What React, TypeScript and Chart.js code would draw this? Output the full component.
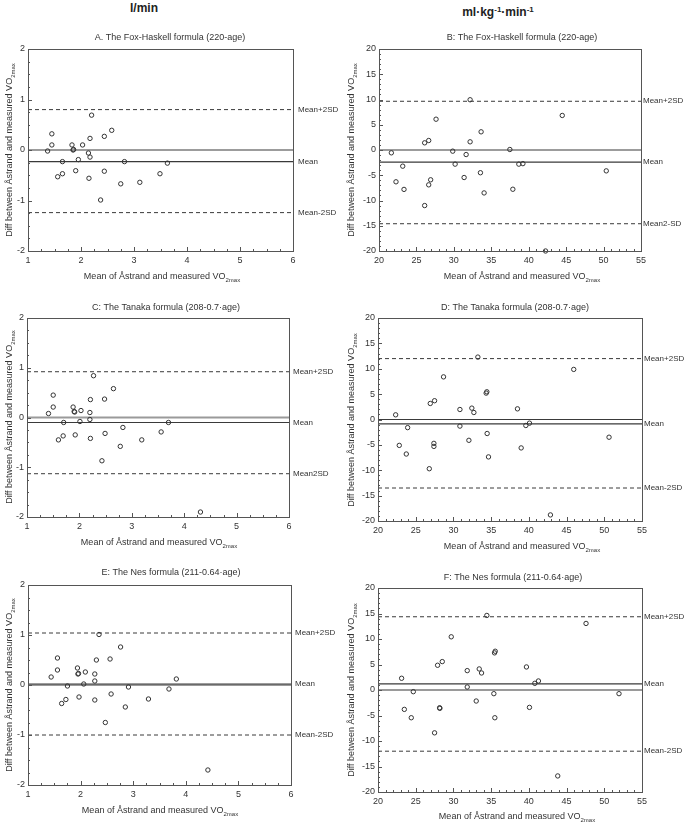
import React, { useEffect, useRef } from "react";
import { Chart, registerables } from "chart.js";

Chart.register(...registerables);

const FONT = '"Liberation Sans", Arial, sans-serif';

// ---------- Data ----------
// Panel A: Fox-Haskell, l/min
const A_X = [1.37, 1.45, 1.45, 1.56, 1.65, 1.65, 1.83, 1.85, 1.86, 1.9, 1.95, 2.03, 2.14, 2.17, 2.17, 2.15, 2.2, 2.37, 2.44, 2.44, 2.58, 2.75, 2.82, 3.11, 3.49, 3.63];
const A_Y = [-0.02, 0.32, 0.1, -0.53, -0.23, -0.47, 0.1, 0.0, 0.01, -0.41, -0.19, 0.1, -0.06, 0.23, -0.14, -0.56, 0.69, -0.99, 0.27, -0.42, 0.39, -0.67, -0.23, -0.64, -0.47, -0.26];
const A_LIMITS = [0.8, -0.23, -1.24];
const A_LIMIT_LABELS = ["Mean+2SD", "Mean", "Mean-2SD"];

// Panel B: Fox-Haskell, ml/kg/min
const B_X = [21.65, 22.27, 23.17, 23.34, 26.1, 26.1, 26.64, 26.64, 26.9, 27.62, 29.85, 30.17, 31.37, 31.64, 32.17, 32.17, 33.55, 33.64, 34.04, 37.48, 37.88, 38.68, 39.22, 42.25, 44.48, 50.36];
const B_Y = [-0.56, -6.3, -3.2, -7.8, -11.0, 1.42, 1.88, -6.9, -5.9, 6.1, -0.23, -2.8, -5.45, -0.9, 9.95, 1.62, -4.5, 3.6, -8.5, 0.1, -7.77, -2.8, -2.7, -20.0, 6.84, -4.13];
const B_LIMITS = [9.65, -2.4, -14.6];
const B_LIMIT_LABELS = ["Mean+2SD", "Mean", "Mean2-SD"];

// Panel C: Tanaka, l/min
const C_X = [1.41, 1.5, 1.5, 1.6, 1.69, 1.7, 1.88, 1.9, 1.91, 1.92, 2.01, 2.03, 2.2, 2.2, 2.21, 2.21, 2.27, 2.43, 2.48, 2.49, 2.65, 2.78, 2.83, 3.19, 3.56, 3.7, 4.31];
const C_Y = [0.08, 0.45, 0.21, -0.45, -0.37, -0.1, 0.21, 0.12, 0.11, -0.35, -0.08, 0.14, 0.1, -0.04, 0.36, -0.42, 0.84, -0.87, 0.37, -0.32, 0.58, -0.58, -0.2, -0.45, -0.29, -0.1, -1.9];
const C_LIMITS = [0.92, -0.1, -1.13];
const C_LIMIT_LABELS = ["Mean+2SD", "Mean", "Mean2SD"];

// Panel D: Tanaka, ml/kg/min
const D_X = [22.34, 22.82, 23.75, 23.93, 26.8, 26.93, 27.41, 27.41, 27.5, 28.69, 30.86, 30.86, 32.05, 32.44, 32.71, 33.24, 34.34, 34.43, 34.47, 34.65, 38.49, 38.98, 39.6, 40.08, 42.86, 45.95, 50.63];
const D_Y = [0.92, -5.1, -6.8, -1.6, -9.7, 3.16, -4.7, -5.3, 3.7, 8.4, 1.97, -1.3, -4.1, 2.24, 1.38, 12.3, 5.2, 5.46, -2.76, -7.37, 2.1, -5.6, -1.18, -0.72, -18.8, 9.87, -3.49];
const D_LIMITS = [12.0, -0.85, -13.5];
const D_LIMIT_LABELS = ["Mean+2SD", "Mean", "Mean-2SD"];

// Panel E: Nes, l/min
const E_X = [1.44, 1.56, 1.56, 1.64, 1.72, 1.75, 1.94, 1.95, 1.96, 1.97, 2.06, 2.09, 2.27, 2.27, 2.27, 2.3, 2.35, 2.47, 2.56, 2.58, 2.76, 2.85, 2.91, 3.29, 3.68, 3.82, 4.42];
const E_Y = [0.16, 0.54, 0.3, -0.37, -0.29, -0.02, 0.34, 0.22, 0.23, -0.24, 0.02, 0.26, 0.22, 0.08, -0.3, 0.5, 1.01, -0.75, 0.52, -0.18, 0.76, -0.44, -0.04, -0.28, -0.08, 0.12, -1.7];
const E_LIMITS = [1.04, 0.02, -1.0];
const E_LIMIT_LABELS = ["Mean+2SD", "Mean", "Mean-2SD"];

// Panel F: Nes, ml/kg/min
const F_X = [23.13, 23.49, 24.41, 24.68, 27.5, 27.9, 28.17, 28.2, 28.52, 29.71, 31.83, 31.83, 33.02, 33.42, 33.73, 34.43, 35.36, 35.45, 35.54, 35.49, 39.68, 40.08, 40.79, 41.27, 43.83, 47.58, 51.95];
const F_Y = [2.3, -3.8, -5.44, -0.33, -8.4, 4.85, -3.48, -3.6, 5.57, 10.43, 3.8, 0.59, -2.16, 4.13, 3.34, 14.62, -0.72, 7.28, 7.6, -5.44, 4.52, -3.41, 1.31, 1.77, -16.85, 13.05, -0.72];
const F_LIMITS = [14.36, 1.2, -12.0];
const F_LIMIT_LABELS = ["Mean+2SD", "Mean", "Mean-2SD"];

// Axis ranges
const X_RANGE_L = [1, 6, 1];
const Y_RANGE_L = [-2, 2, 1];
const X_RANGE_ML = [20, 55, 5];
const Y_RANGE_ML = [-20, 20, 5];

const TITLES = [
  "A. The Fox-Haskell formula (220-age)",
  "B: The Fox-Haskell formula (220-age)",
  "C: The Tanaka formula (208-0.7·age)",
  "D: The Tanaka formula (208-0.7·age)",
  "E: The Nes formula (211-0.64·age)",
  "F: The Nes formula (211-0.64·age)",
];
const X_TITLE = ["Mean of Åstrand and measured VO", "2max"];
const Y_TITLE = ["Diff between Åstrand and measured VO", "2max"];

// ---------- Layout ----------
type Panel = {
  cx: number; cy: number; cw: number; ch: number;
  L: number; T: number; R: number; B: number;
  xs: number[]; ys: number[];
  xr: number[]; yr: number[];
  xMinor: number; yMinor: number;
  limits: number[]; limitLabels: string[]; labelGap: number;
  zeroGray: boolean;
  title: string; titleX: number; titleY: number;
  xTitleX: number; xTitleY: number;
  yTitleX: number; yTitleY: number;
};

const PANELS: Panel[] = [
  { cx: 0, cy: 20, cw: 342, ch: 270, L: 28, T: 49, R: 293, B: 251, xs: A_X, ys: A_Y, xr: X_RANGE_L, yr: Y_RANGE_L, xMinor: 0.25, yMinor: 0.25, limits: A_LIMITS, limitLabels: A_LIMIT_LABELS, labelGap: 5, zeroGray: false, title: TITLES[0], titleX: 170, titleY: 38, xTitleX: 162, xTitleY: 277, yTitleX: 10, yTitleY: 150 },
  { cx: 342, cy: 20, cw: 343, ch: 270, L: 379, T: 49, R: 641, B: 251, xs: B_X, ys: B_Y, xr: X_RANGE_ML, yr: Y_RANGE_ML, xMinor: 1, yMinor: 1, limits: B_LIMITS, limitLabels: B_LIMIT_LABELS, labelGap: 2, zeroGray: false, title: TITLES[1], titleX: 522, titleY: 38, xTitleX: 522, xTitleY: 277, yTitleX: 352, yTitleY: 150 },
  { cx: 0, cy: 290, cw: 342, ch: 268, L: 27, T: 318, R: 289, B: 517, xs: C_X, ys: C_Y, xr: X_RANGE_L, yr: Y_RANGE_L, xMinor: 0.25, yMinor: 0.25, limits: C_LIMITS, limitLabels: C_LIMIT_LABELS, labelGap: 4, zeroGray: true, title: TITLES[2], titleX: 166, titleY: 308, xTitleX: 159, xTitleY: 543, yTitleX: 10, yTitleY: 417 },
  { cx: 342, cy: 290, cw: 343, ch: 268, L: 378, T: 318, R: 642, B: 521, xs: D_X, ys: D_Y, xr: X_RANGE_ML, yr: Y_RANGE_ML, xMinor: 1, yMinor: 1, limits: D_LIMITS, limitLabels: D_LIMIT_LABELS, labelGap: 2, zeroGray: false, title: TITLES[3], titleX: 515, titleY: 308, xTitleX: 522, xTitleY: 547, yTitleX: 352, yTitleY: 420 },
  { cx: 0, cy: 558, cw: 342, ch: 267, L: 28, T: 585, R: 291, B: 785, xs: E_X, ys: E_Y, xr: X_RANGE_L, yr: Y_RANGE_L, xMinor: 0.25, yMinor: 0.25, limits: E_LIMITS, limitLabels: E_LIMIT_LABELS, labelGap: 4, zeroGray: true, title: TITLES[4], titleX: 171, titleY: 573, xTitleX: 160, xTitleY: 811, yTitleX: 10, yTitleY: 685 },
  { cx: 342, cy: 558, cw: 343, ch: 267, L: 378, T: 588, R: 642, B: 792, xs: F_X, ys: F_Y, xr: X_RANGE_ML, yr: Y_RANGE_ML, xMinor: 1, yMinor: 1, limits: F_LIMITS, limitLabels: F_LIMIT_LABELS, labelGap: 2, zeroGray: true, title: TITLES[5], titleX: 513, titleY: 578, xTitleX: 517, xTitleY: 817, yTitleX: 352, yTitleY: 690 },
];

const TEXT = "#333";
const LINE = "#3a3a3a";

function drawSubText(ctx: CanvasRenderingContext2D, main: string, sub: string, x: number, y: number) {
  ctx.font = `9px ${FONT}`;
  const w1 = ctx.measureText(main).width;
  ctx.font = `6px ${FONT}`;
  const w2 = ctx.measureText(sub).width;
  const start = x - (w1 + w2) / 2;
  ctx.textAlign = "left";
  ctx.textBaseline = "middle";
  ctx.fillStyle = TEXT;
  ctx.font = `9px ${FONT}`;
  ctx.fillText(main, start, y);
  ctx.font = `6px ${FONT}`;
  ctx.fillText(sub, start + w1, y + 3);
}

function makeDecor(p: Panel) {
  return {
    id: "decor",
    afterDraw(chart: any) {
      const ctx: CanvasRenderingContext2D = chart.ctx;
      const ca = chart.chartArea;
      const xs = chart.scales.x;
      const ys = chart.scales.y;
      ctx.save();
      // minor + major ticks on bottom and left edges (inside)
      ctx.strokeStyle = "#555";
      ctx.lineWidth = 1;
      ctx.beginPath();
      const nx = Math.round((p.xr[1] - p.xr[0]) / p.xMinor);
      for (let i = 0; i <= nx; i++) {
        const v = p.xr[0] + i * p.xMinor;
        const px = Math.round(xs.getPixelForValue(v)) + 0.5;
        const major = Math.abs(v / p.xr[2] - Math.round(v / p.xr[2])) < 1e-6;
        const len = major ? 4 : 2;
        ctx.moveTo(px, ca.bottom);
        ctx.lineTo(px, ca.bottom - len);
      }
      const ny = Math.round((p.yr[1] - p.yr[0]) / p.yMinor);
      for (let i = 0; i <= ny; i++) {
        const v = p.yr[0] + i * p.yMinor;
        const py = Math.round(ys.getPixelForValue(v)) + 0.5;
        const major = Math.abs(v / p.yr[2] - Math.round(v / p.yr[2])) < 1e-6;
        const len = major ? 4 : 2;
        ctx.moveTo(ca.left, py);
        ctx.lineTo(ca.left + len, py);
      }
      ctx.stroke();
      // frame
      ctx.strokeStyle = "#555";
      ctx.lineWidth = 1;
      ctx.strokeRect(Math.round(ca.left) + 0.5, Math.round(ca.top) + 0.5, Math.round(ca.right - ca.left), Math.round(ca.bottom - ca.top));
      // limit labels
      ctx.fillStyle = TEXT;
      ctx.font = `8px ${FONT}`;
      ctx.textAlign = "left";
      ctx.textBaseline = "middle";
      p.limits.forEach((v, i) => {
        ctx.fillText(p.limitLabels[i], ca.right + p.labelGap, ys.getPixelForValue(v));
      });
      // title
      ctx.font = `9px ${FONT}`;
      ctx.textAlign = "center";
      ctx.fillText(p.title, p.titleX - p.cx, p.titleY - p.cy);
      // x title
      drawSubText(ctx, X_TITLE[0], X_TITLE[1], p.xTitleX - p.cx, p.xTitleY - p.cy);
      // y title
      ctx.save();
      ctx.translate(p.yTitleX - p.cx, p.yTitleY - p.cy);
      ctx.rotate(-Math.PI / 2);
      drawSubText(ctx, Y_TITLE[0], Y_TITLE[1], 0, 0);
      ctx.restore();
      ctx.restore();
    },
  };
}

function PanelChart({ p }: { p: Panel }) {
  const ref = useRef<HTMLCanvasElement>(null);
  useEffect(() => {
    if (!ref.current) return;
    const xMin = p.xr[0];
    const xMax = p.xr[1];
    const hLine = (v: number, color: string, width: number, dash: number[]) => ({
      type: "line" as const,
      data: [{ x: xMin, y: v }, { x: xMax, y: v }],
      showLine: true,
      borderColor: color,
      borderWidth: width,
      borderDash: dash,
      pointRadius: 0,
      fill: false,
    });
    const points = p.xs.map((x, i) => ({ x, y: p.ys[i] }));
    const chart = new Chart(ref.current, {
      type: "scatter",
      data: {
        datasets: [
          {
            data: points,
            pointStyle: "circle",
            pointRadius: 2.2,
            pointBorderWidth: 1,
            pointBorderColor: "#333",
            pointBackgroundColor: "rgba(255,255,255,0)",
            showLine: false,
            clip: false,
          } as any,
          hLine(p.limits[0], LINE, 1, [4, 3]),
          hLine(p.limits[1], LINE, 1.2, []),
          hLine(p.limits[2], LINE, 1, [4, 3]),
          p.zeroGray ? hLine(0, "#9a9a9a", 2, []) : hLine(0, LINE, 1.2, []),
        ],
      },
      options: {
        responsive: false,
        animation: false,
        events: [],
        layout: {
          padding: {
            left: 0,
            top: p.T - p.cy,
            right: p.cx + p.cw - p.R,
            bottom: p.cy + p.ch - p.B - 20,
          },
        },
        plugins: {
          legend: { display: false },
          tooltip: { enabled: false },
          title: { display: false },
        },
        scales: {
          x: {
            type: "linear",
            min: p.xr[0],
            max: p.xr[1],
            ticks: { stepSize: p.xr[2], color: TEXT, font: { size: 9, family: FONT }, padding: 4, maxRotation: 0, autoSkip: false },
            grid: { display: false, drawTicks: false },
            border: { display: false },
            afterFit: (s: any) => { s.height = 20; },
          },
          y: {
            type: "linear",
            min: p.yr[0],
            max: p.yr[1],
            ticks: { stepSize: p.yr[2], color: TEXT, font: { size: 9, family: FONT }, padding: 3, autoSkip: false },
            grid: { display: false, drawTicks: false },
            border: { display: false },
            afterFit: (s: any) => { s.width = p.L - p.cx; },
          },
        },
      } as any,
      plugins: [makeDecor(p)],
    });
    return () => chart.destroy();
  }, [p]);
  return (
    <canvas
      ref={ref}
      width={p.cw}
      height={p.ch}
      style={{ position: "absolute", left: p.cx, top: p.cy, width: p.cw, height: p.ch }}
    />
  );
}

export default function App() {
  return (
    <div style={{ position: "absolute", left: 0, top: 0, width: 685, height: 825, background: "#fff", fontFamily: FONT, overflow: "hidden" }}>
      <div style={{ position: "absolute", left: 144, top: 1, transform: "translateX(-50%)", fontWeight: "bold", fontSize: 12, lineHeight: "14px", color: "#222", whiteSpace: "nowrap" }}>
        l/min
      </div>
      <div style={{ position: "absolute", left: 498, top: 5, transform: "translateX(-50%)", fontWeight: "bold", fontSize: 12, lineHeight: "14px", color: "#222", whiteSpace: "nowrap" }}>
        ml·kg<span style={{ fontSize: 8, position: "relative", top: -4 }}>-1</span>·min<span style={{ fontSize: 8, position: "relative", top: -4 }}>-1</span>
      </div>
      {PANELS.map((p, i) => (
        <PanelChart key={i} p={p} />
      ))}
    </div>
  );
}
